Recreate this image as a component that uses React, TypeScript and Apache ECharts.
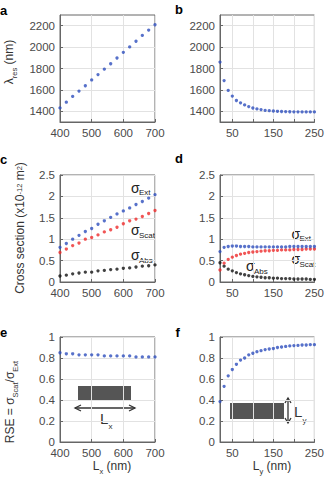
import React, { useEffect, useRef } from 'react';
import * as echarts from 'echarts';

// ---------- data ----------
const lxNm = [400, 420, 440, 460, 480, 500, 520, 540, 560, 580, 600, 620, 640, 660, 680, 700];
const lyNm = [20, 30, 40, 50, 60, 70, 80, 90, 100, 110, 120, 130, 140, 150, 160, 170, 180, 190, 200, 210, 220, 230, 240, 250];

const lambdaResA = [1432, 1485, 1539, 1589, 1639, 1693, 1743, 1794, 1844, 1898, 1951, 2002, 2055, 2109, 2159, 2209];
const lambdaResB = [1860, 1687, 1595, 1542, 1501, 1479, 1460, 1444, 1431, 1422, 1416, 1409, 1406, 1403, 1400, 1398, 1397, 1396, 1395, 1395, 1394, 1394, 1394, 1394];

const extC = [0.81, 0.9, 1.0, 1.09, 1.18, 1.25, 1.35, 1.43, 1.51, 1.59, 1.66, 1.73, 1.81, 1.88, 1.96, 2.04];
const scatC = [0.69, 0.77, 0.85, 0.91, 1.0, 1.04, 1.1, 1.17, 1.22, 1.28, 1.36, 1.43, 1.47, 1.53, 1.6, 1.67];
const absC = [0.14, 0.16, 0.19, 0.21, 0.23, 0.23, 0.26, 0.27, 0.29, 0.3, 0.32, 0.33, 0.35, 0.37, 0.38, 0.4];

const extD = [0.71, 0.81, 0.83, 0.84, 0.84, 0.83, 0.83, 0.83, 0.82, 0.82, 0.82, 0.82, 0.82, 0.82, 0.82, 0.82, 0.82, 0.83, 0.83, 0.83, 0.83, 0.83, 0.83, 0.83];
const scatD = [0.28, 0.44, 0.53, 0.58, 0.62, 0.65, 0.67, 0.69, 0.7, 0.71, 0.72, 0.73, 0.73, 0.74, 0.74, 0.75, 0.75, 0.75, 0.76, 0.76, 0.76, 0.77, 0.77, 0.77];
const absD = [0.45, 0.37, 0.3, 0.26, 0.22, 0.19, 0.17, 0.15, 0.13, 0.12, 0.11, 0.1, 0.1, 0.09, 0.09, 0.08, 0.08, 0.08, 0.07, 0.07, 0.07, 0.07, 0.06, 0.06];

const rseE = [0.85, 0.84, 0.84, 0.83, 0.83, 0.83, 0.83, 0.82, 0.82, 0.82, 0.82, 0.82, 0.81, 0.81, 0.81, 0.81];
const rseF = [0.385, 0.53, 0.63, 0.69, 0.74, 0.78, 0.8, 0.83, 0.845, 0.86, 0.87, 0.88, 0.886, 0.89, 0.9, 0.905, 0.91, 0.915, 0.918, 0.92, 0.924, 0.924, 0.927, 0.927];

const lambdaTicks = [1400, 1600, 1800, 2000, 2200];
const lyTicks = [50, 100, 150, 200, 250];
const lyTickLabels = [50, 150, 250];

// ---------- styles ----------
const FONT = 'Liberation Sans, Arial, Helvetica, sans-serif';
const BLUE = '#2d4dbd';
const RED = '#ee2a2a';
const BLACK = '#111111';
const AXIS = '#666666';
const LABEL = '#4a4a4a';
const GRIDLINE = '#e2e2e2';

const grids = [
  { left: 60, top: 15, width: 95, height: 107 },
  { left: 220, top: 15, width: 95, height: 107 },
  { left: 60, top: 175, width: 95, height: 107 },
  { left: 220, top: 175, width: 95, height: 107 },
  { left: 60, top: 337, width: 95, height: 105 },
  { left: 220, top: 337, width: 95, height: 105 },
];

const pairs = (xs: number[], ys: number[]) => xs.map((x, i) => [x, ys[i]]);

function baseAxis(gridIndex: number) {
  return {
    type: 'value' as const,
    gridIndex,
    axisLine: { show: true, lineStyle: { color: AXIS, width: 1 } },
    axisTick: { show: true, inside: true, length: 3, lineStyle: { color: AXIS } },
    axisLabel: {
      fontSize: 11.5,
      color: LABEL,
      fontFamily: FONT,
      margin: 5,
      formatter: (v: number) => String(v),
    },
    splitLine: { show: true, lineStyle: { color: GRIDLINE, width: 1 } },
  };
}

function xLx(gridIndex: number) {
  const b = baseAxis(gridIndex);
  return { ...b, min: 400, max: 700, interval: 100 };
}
function xLy(gridIndex: number) {
  const b = baseAxis(gridIndex);
  return {
    ...b,
    min: 20,
    max: 250,
    axisTick: { ...b.axisTick, customValues: lyTicks },
    axisLabel: { ...b.axisLabel, customValues: lyTickLabels },
  };
}
function yLambda(gridIndex: number) {
  const b = baseAxis(gridIndex);
  return {
    ...b,
    min: 1300,
    max: 2300,
    axisTick: { ...b.axisTick, customValues: lambdaTicks },
    axisLabel: { ...b.axisLabel, customValues: lambdaTicks },
  };
}
function yCross(gridIndex: number) {
  return { ...baseAxis(gridIndex), min: 0, max: 2.5, interval: 0.5 };
}
function yRse(gridIndex: number) {
  return { ...baseAxis(gridIndex), min: 0, max: 1, interval: 0.2 };
}

function scatter(idx: number, data: number[][], color: string) {
  return {
    type: 'scatter' as const,
    xAxisIndex: idx,
    yAxisIndex: idx,
    data,
    symbol: 'circle',
    symbolSize: 3.3,
    clip: false,
    itemStyle: { color },
    silent: true,
  };
}

const richBase = {
  m: { fontSize: 12, fontFamily: FONT, verticalAlign: 'bottom', lineHeight: 14, padding: [0, 0, 3, 0] },
  s: { fontSize: 7.5, fontFamily: FONT, verticalAlign: 'bottom', lineHeight: 9 },
  p: { fontSize: 7.5, fontFamily: FONT, verticalAlign: 'top', lineHeight: 9 },
};

function richText(x: number, y: number, text: string, rotate: boolean) {
  return {
    type: 'text',
    x,
    y,
    rotation: rotate ? Math.PI / 2 : 0,
    silent: true,
    style: {
      text,
      rich: richBase,
      fill: '#333',
      align: 'center',
      verticalAlign: 'middle',
      fontFamily: FONT,
      fontSize: 12,
    },
  };
}

function plainText(x: number, y: number, text: string, size: number, opts: any = {}) {
  return {
    type: 'text',
    x,
    y,
    silent: true,
    style: {
      text,
      fill: opts.fill || '#222',
      fontSize: size,
      fontFamily: FONT,
      fontWeight: opts.bold ? 'bold' : 'normal',
      align: opts.align || 'left',
      verticalAlign: 'middle',
    },
  };
}

function sigma(x: number, y: number, sub: string) {
  return [plainText(x, y, 'σ', 14), plainText(x + 8, y + 5, sub, 8)];
}

const arrowStyle = { stroke: '#333', lineWidth: 1.3, fill: 'none' };

export default function App() {
  const ref = useRef<HTMLDivElement>(null);

  useEffect(() => {
    if (!ref.current) return;
    const chart = echarts.init(ref.current, undefined, { renderer: 'svg' });

    const graphic: any[] = [
      // panel letters
      plainText(0, 10, 'a', 13, { bold: true, fill: '#000' }),
      plainText(175, 9, 'b', 13, { bold: true, fill: '#000' }),
      plainText(0, 159, 'c', 13, { bold: true, fill: '#000' }),
      plainText(175, 158.5, 'd', 13, { bold: true, fill: '#000' }),
      plainText(0, 332.5, 'e', 13, { bold: true, fill: '#000' }),
      plainText(175.5, 332.5, 'f', 13, { bold: true, fill: '#000' }),
      // axis titles
      richText(11, 62, '{m|λ}{s|res}{m| (nm)}', true),
      richText(22, 228, '{m|Cross section (x10}{p|-12}{m| m}{p|2}{m|)}', true),
      richText(12, 402, '{m|RSE = σ}{s|Scat}{m|/σ}{s|Ext}', true),
      richText(112, 468, '{m|L}{s|x}{m| (nm)}', false),
      richText(272, 468, '{m|L}{s|y}{m| (nm)}', false),
      // sigma labels panel c
      ...sigma(131, 187.5, 'Ext'),
      ...sigma(131, 230, 'Scat'),
      ...sigma(131, 255, 'Abs'),
      // sigma labels panel d
      ...sigma(291.5, 233.5, 'Ext'),
      ...sigma(291.5, 259, 'Scat'),
      ...sigma(246, 266, 'Abs'),
      // panel e annotation
      { type: 'rect', silent: true, shape: { x: 78, y: 386, width: 53, height: 15 }, style: { fill: '#555555' } },
      { type: 'line', silent: true, shape: { x1: 75, y1: 408, x2: 135, y2: 408 }, style: arrowStyle },
      { type: 'polyline', silent: true, shape: { points: [[81, 405], [75, 408], [81, 411]] }, style: arrowStyle },
      { type: 'polyline', silent: true, shape: { points: [[129, 405], [135, 408], [129, 411]] }, style: arrowStyle },
      plainText(100, 418.5, 'L', 15, { fill: '#333' }),
      plainText(108.5, 426, 'x', 8, { fill: '#333' }),
      // panel f annotation
      { type: 'rect', silent: true, shape: { x: 230, y: 403, width: 54, height: 16 }, style: { fill: '#555555' } },
      { type: 'line', silent: true, shape: { x1: 288, y1: 398, x2: 288, y2: 423 }, style: arrowStyle },
      { type: 'polyline', silent: true, shape: { points: [[285, 403], [288, 398], [291, 403]] }, style: arrowStyle },
      { type: 'polyline', silent: true, shape: { points: [[285, 418], [288, 423], [291, 418]] }, style: arrowStyle },
      plainText(294, 411.5, 'L', 15, { fill: '#333' }),
      plainText(302.5, 420, 'y', 8, { fill: '#333' }),
    ];

    chart.setOption({
      animation: false,
      backgroundColor: '#ffffff',
      grid: grids.map((g) => ({ ...g, show: true, borderColor: AXIS, borderWidth: 1, containLabel: false })),
      xAxis: [xLx(0), xLy(1), xLx(2), xLy(3), xLx(4), xLy(5)],
      yAxis: [yLambda(0), yLambda(1), yCross(2), yCross(3), yRse(4), yRse(5)],
      series: [
        scatter(0, pairs(lxNm, lambdaResA), BLUE),
        scatter(1, pairs(lyNm, lambdaResB), BLUE),
        scatter(2, pairs(lxNm, absC), BLACK),
        scatter(2, pairs(lxNm, scatC), RED),
        scatter(2, pairs(lxNm, extC), BLUE),
        scatter(3, pairs(lyNm, absD), BLACK),
        scatter(3, pairs(lyNm, scatD), RED),
        scatter(3, pairs(lyNm, extD), BLUE),
        scatter(4, pairs(lxNm, rseE), BLUE),
        scatter(5, pairs(lyNm, rseF), BLUE),
      ],
      graphic,
    });

    return () => chart.dispose();
  }, []);

  return (
    <div
      ref={ref}
      style={{ position: 'fixed', left: 0, top: 0, width: 327, height: 482, background: '#fff' }}
    />
  );
}
